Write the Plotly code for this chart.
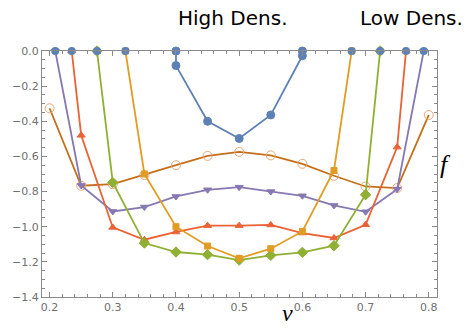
import plotly.graph_objects as go

# data
blue_nu = [0.4, 0.4, 0.45, 0.5, 0.55, 0.6, 0.6]
blue_f = [0.0, -0.083, -0.40, -0.498, -0.364, -0.027, 0.0]

orange_nu = [0.32, 0.35, 0.4, 0.45, 0.5, 0.55, 0.6, 0.65, 0.678]
orange_f = [0.0, -0.70, -1.0, -1.11, -1.18, -1.125, -1.027, -0.68, 0.0]

green_nu = [0.275, 0.3, 0.35, 0.4, 0.45, 0.5, 0.55, 0.6, 0.65, 0.7, 0.723]
green_f = [0.0, -0.748, -1.093, -1.144, -1.159, -1.19, -1.163, -1.146, -1.108, -0.818, 0.0]

red_nu = [0.235, 0.25, 0.3, 0.35, 0.4, 0.45, 0.5, 0.55, 0.6, 0.65, 0.7, 0.75, 0.764]
red_f = [0.0, -0.48, -1.004, -1.074, -1.03, -0.994, -0.994, -0.99, -1.036, -1.064, -0.989, -0.547, 0.0]

purple_nu = [0.209, 0.25, 0.3, 0.35, 0.4, 0.45, 0.5, 0.55, 0.6, 0.65, 0.7, 0.75, 0.792]
purple_f = [0.0, -0.765, -0.913, -0.888, -0.828, -0.79, -0.775, -0.80, -0.824, -0.879, -0.915, -0.786, 0.0]

brown_nu = [0.2, 0.25, 0.3, 0.35, 0.4, 0.45, 0.5, 0.55, 0.6, 0.65, 0.7, 0.75, 0.8]
brown_f = [-0.326, -0.767, -0.758, -0.706, -0.65, -0.597, -0.574, -0.594, -0.642, -0.71, -0.771, -0.78, -0.364]

edge_nu = [0.209, 0.235, 0.275, 0.32, 0.4, 0.6, 0.678, 0.723, 0.764, 0.792]
edge_f = [0.0] * len(edge_nu)

x_ticks = [0.2, 0.3, 0.4, 0.5, 0.6, 0.7, 0.8]
y_ticks = [0.0, -0.2, -0.4, -0.6, -0.8, -1.0, -1.2, -1.4]

fig = go.Figure()

def add(nu, f, lc, sym, size, mc=None, lw=1.8):
    fig.add_trace(go.Scatter(
        x=nu, y=f, mode="lines+markers",
        line=dict(color=lc, width=lw),
        marker=dict(symbol=sym, size=size, color=mc or lc,
                    line=dict(width=1, color=mc or lc)),
        cliponaxis=False, showlegend=False))

add(brown_nu, brown_f, "#C56E1A", "circle-open", 9, mc="#E8A878")
add(purple_nu, purple_f, "#8778B3", "triangle-down", 7)
add(red_nu, red_f, "#EB6235", "triangle-up", 7)
add(green_nu, green_f, "#8FB032", "diamond", 8)
add(orange_nu, orange_f, "#E19C24", "square", 6)
add(blue_nu, blue_f, "#5E81B5", "circle", 8)

fig.add_trace(go.Scatter(x=edge_nu, y=edge_f, mode="markers",
                         marker=dict(symbol="circle", size=8, color="#5E81B5"),
                         cliponaxis=False, showlegend=False))

axcommon = dict(showline=True, mirror="ticks", linecolor="#8a8a8a", linewidth=1,
                ticks="inside", ticklen=5, tickcolor="#8a8a8a", showgrid=False,
                zeroline=False, tickfont=dict(family="DejaVu Sans", size=11, color="#707070"))

fig.update_xaxes(range=[0.188, 0.813], tickvals=x_ticks,
                 ticktext=[f"{v:.1f}" for v in x_ticks],
                 minor=dict(ticks="inside", dtick=0.02, tick0=0.2, ticklen=3, tickcolor="#8a8a8a"),
                 **axcommon)
fig.update_yaxes(range=[-1.4, 0.0], tickvals=y_ticks,
                 ticktext=["0.0" if v == 0 else f"\u2212{abs(v):.1f}" for v in y_ticks],
                 minor=dict(ticks="inside", dtick=0.05, tick0=0.0, ticklen=3, tickcolor="#8a8a8a"),
                 **axcommon)

L, R, T, B = 37, 29, 51, 33
pw, ph = 466 - L - R, 330 - T - B

def px(x):
    return (x - L) / pw

def py(y):
    return 1 + (T - y) / ph

fig.update_layout(
    width=466, height=330,
    margin=dict(l=L, r=R, t=T, b=B),
    paper_bgcolor="white", plot_bgcolor="white",
)

def label(text, x, y, family, size):
    fig.add_annotation(text=text, x=px(x), y=py(y), xref="paper", yref="paper",
                       xanchor="center", yanchor="middle", showarrow=False,
                       font=dict(family=family, size=size, color="black"))

label("High Dens.", 230, 18, "DejaVu Sans", 20)
label("Low Dens.", 411, 18, "DejaVu Sans", 20)
label("<i>f</i>", 446, 164, "Liberation Serif", 26)
label("<i>ν</i>", 286, 313, "Liberation Serif", 24)

fig.write_html("out.html")
